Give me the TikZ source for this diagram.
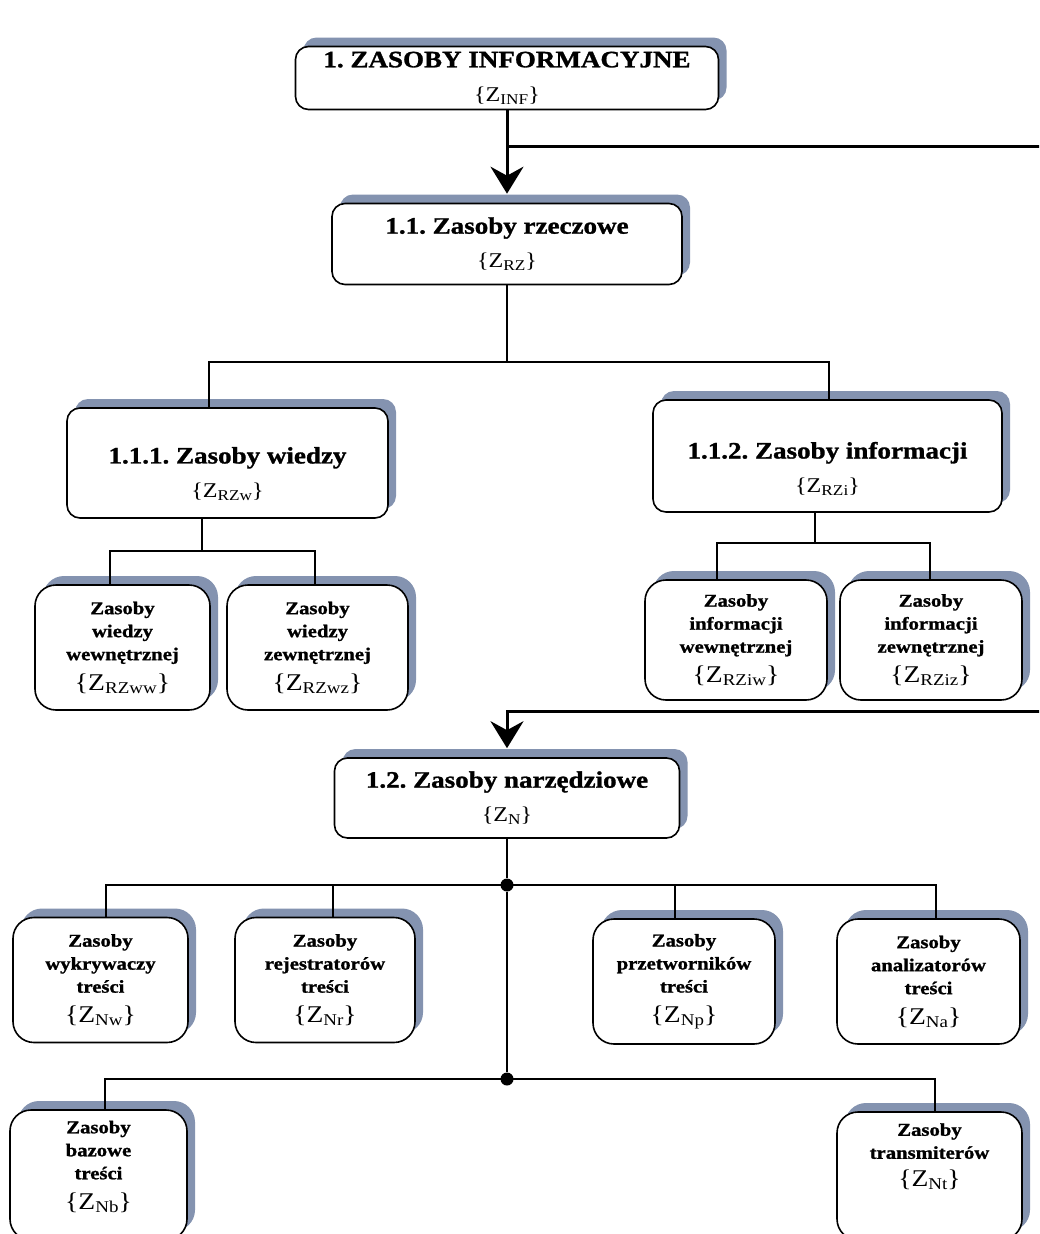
\documentclass[tikz,border=0pt]{standalone}
\usepackage{fontspec}
\setmainfont{Liberation Serif}[FakeStretch=1.15, BoldFeatures={FakeBold=1.2}]
\usepackage{tikz}
\usetikzlibrary{arrows.meta,shadows}

\definecolor{shadowblue}{RGB}{132,147,176}

% {Z_x} set under a box title
\newcommand{\zb}[1]{{\mdseries\fontsize{21}{21}\selectfont\{Z\raisebox{-3pt}{\fontsize{15}{15}\selectfont#1}\}}}
\newcommand{\zl}[1]{{\mdseries\fontsize{24}{24}\selectfont\{Z\raisebox{-3pt}{\fontsize{16.5}{16.5}\selectfont#1}\}}}

\tikzset{
  box/.style={draw, line width=1.6pt, fill=white, align=center, inner sep=0pt,
    drop shadow={shadow xshift=8pt, shadow yshift=9pt, fill=shadowblue, opacity=1}},
  head/.style={box, rounded corners=13pt, font=\bfseries\fontsize{23.5}{34}\selectfont},
  leaf/.style={box, rounded corners=21pt, minimum height=125pt,
    font=\bfseries\fontsize{18}{23}\selectfont},
  link/.style={line width=1.3pt},
  feedline/.style={line width=3pt, line join=miter},
  feed/.style={feedline, -{Stealth[length=27pt,width=33pt,inset=9pt]}},
  dot/.style={circle, fill, inner sep=0pt, minimum size=13pt}
}

\begin{document}
\frenchspacing
\begin{tikzpicture}[x=1pt,y=-1pt]
        \useasboundingbox[fill=white] (0,0) rectangle (1039,1234);
        \clip (0,0) rectangle (1039,1234);

        % main boxes
        \node[head, minimum width=423pt, minimum height=63pt] (inf) at (507,78) {1. ZASOBY INFORMACYJNE\\\zb{INF}};
        \node[head, minimum width=350pt, minimum height=81pt] (rz) at (507,244) {1.1. Zasoby rzeczowe\\\zb{RZ}};
        \node[head, minimum width=321pt, minimum height=110pt, text height=72pt] (rzw) at (227.5,463) {1.1.1. Zasoby wiedzy\\\zb{RZw}};
        \node[head, minimum width=349pt, minimum height=112pt, text height=76pt] (rzi) at (827.5,456) {1.1.2. Zasoby informacji\\\zb{RZi}};
        \node[head, minimum width=345pt, minimum height=80pt] (n) at (507,798) {1.2. Zasoby narzędziowe\\\zb{N}};

        % leaves
        \node[leaf, minimum width=175pt] (rzww) at (122.5,647.5) {Zasoby\\wiedzy\\wewnętrznej\\[7pt]\zl{RZww}};
        \node[leaf, minimum width=181pt] (rzwz) at (317.5,647.5) {Zasoby\\wiedzy\\zewnętrznej\\[7pt]\zl{RZwz}};
        \node[leaf, minimum width=182pt, minimum height=120pt] (rziw) at (736,640) {Zasoby\\informacji\\wewnętrznej\\[7pt]\zl{RZiw}};
        \node[leaf, minimum width=182pt, minimum height=120pt] (rziz) at (931,640) {Zasoby\\informacji\\zewnętrznej\\[7pt]\zl{RZiz}};
        \node[leaf, minimum width=175pt] (nw) at (100.5,980) {Zasoby\\wykrywaczy\\treści\\[7pt]\zl{Nw}};
        \node[leaf, minimum width=180pt] (nr) at (325,980) {Zasoby\\rejestratorów\\treści\\[7pt]\zl{Nr}};
        \node[leaf, minimum width=182pt] (np) at (684,981.5) {Zasoby\\przetworników\\treści\\[7pt]\zl{Np}};
        \node[leaf, minimum width=183pt] (na) at (928.5,981.5) {Zasoby\\analizatorów\\treści\\[7pt]\zl{Na}};
        \node[leaf, minimum width=177pt, minimum height=130pt, text depth=20pt] (nb) at (98.5,1175) {Zasoby\\bazowe\\treści\\[7pt]\zl{Nb}};
        \node[leaf, minimum width=185pt, minimum height=128pt, text depth=42pt] (nt) at (929.5,1176) {Zasoby\\transmiterów\\[5pt]\zl{Nt}};

        % thick feeds from the right edge
        \coordinate (edge1) at (1045,146);
        \coordinate (edge2) at (1045,711);
        \draw[feed] (inf.south) -- ([yshift=9pt]rz.north);
        \draw[feedline] (inf.south |- edge1) -- (edge1);
        \draw[feed] (edge2) -- (edge2 -| n.north) -- ([yshift=9pt]n.north);

        % 1.1 branches
        \coordinate (b1w) at (209,362);
        \coordinate (b1i) at (829,362);
        \draw[link] (rz.south) -- (rz.south |- b1w);
        \draw[link] (b1w |- rzw.north) -- (b1w) -- (b1i) -- (b1i |- rzi.north);

        \coordinate (b2m) at (202,551);
        \coordinate (b2l) at (110,551);
        \coordinate (b2r) at (315,551);
        \draw[link] (b2m |- rzw.south) -- (b2m);
        \draw[link] (b2l |- rzww.north) -- (b2l) -- (b2r) -- (b2r |- rzwz.north);

        \coordinate (b3m) at (815,543);
        \coordinate (b3l) at (717,543);
        \coordinate (b3r) at (930,543);
        \draw[link] (b3m |- rzi.south) -- (b3m);
        \draw[link] (b3l |- rziw.north) -- (b3l) -- (b3r) -- (b3r |- rziz.north);

        % 1.2 branches
        \node[dot] (d1) at (507,885) {};
        \node[dot] (d2) at (507,1079) {};
        \draw[link] (n.south) -- (d1) -- (d2);

        \coordinate (b4l) at (106,885);
        \coordinate (b4a) at (333,885);
        \coordinate (b4b) at (675,885);
        \coordinate (b4r) at (936,885);
        \draw[link] (b4l |- nw.north) -- (b4l) -- (b4r) -- (b4r |- na.north);
        \draw[link] (b4a) -- (b4a |- nr.north);
        \draw[link] (b4b) -- (b4b |- np.north);

        \coordinate (b5l) at (105,1079);
        \coordinate (b5r) at (935,1079);
        \draw[link] (b5l |- nb.north) -- (b5l) -- (b5r) -- (b5r |- nt.north);
\end{tikzpicture}
\end{document}
